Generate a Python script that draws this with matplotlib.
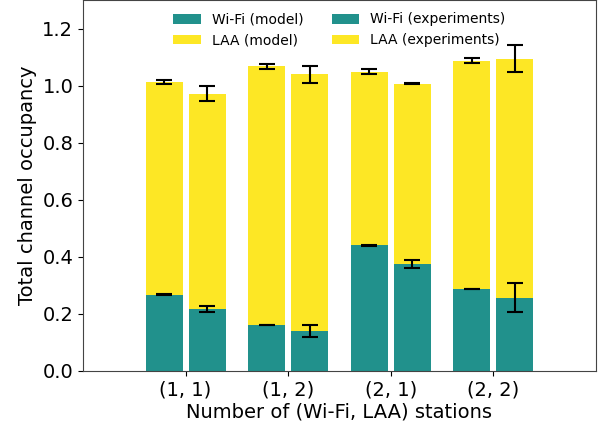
import matplotlib
matplotlib.use("Agg")
import matplotlib.pyplot as plt
import numpy as np

categories = ["(1, 1)", "(1, 2)", "(2, 1)", "(2, 2)"]
wifi_model = [0.267, 0.161, 0.440, 0.288]
wifi_model_err = [0.002, 0.001, 0.001, 0.001]
total_model = [1.014, 1.067, 1.049, 1.088]
total_model_err = [0.007, 0.009, 0.008, 0.009]
wifi_exp = [0.218, 0.140, 0.375, 0.256]
wifi_exp_err = [0.010, 0.021, 0.015, 0.051]
total_exp = [0.972, 1.039, 1.007, 1.095]
total_exp_err = [0.027, 0.030, 0.002, 0.048]

laa_model = [t - w for t, w in zip(total_model, wifi_model)]
laa_exp = [t - w for t, w in zip(total_exp, wifi_exp)]

teal = "#21918c"
yellow = "#fde725"

fig = plt.figure(figsize=(6.03, 4.32), dpi=100)
ax = fig.add_axes([83/603, 1 - 371/432, 513/603, 371/432])

x = np.arange(len(categories))
w = 0.36
off = 0.21
ek = dict(ecolor="black", capsize=6, elinewidth=1.5, capthick=1.5)

ax.bar(x - off, wifi_model, w, color=teal, label="Wi-Fi (model)")
ax.bar(x - off, laa_model, w, bottom=wifi_model, color=yellow, label="LAA (model)")
ax.bar(x + off, wifi_exp, w, color=teal, label="Wi-Fi (experiments)")
ax.bar(x + off, laa_exp, w, bottom=wifi_exp, color=yellow, label="LAA (experiments)")

ax.errorbar(x - off, wifi_model, yerr=wifi_model_err, fmt="none", **ek)
ax.errorbar(x - off, total_model, yerr=total_model_err, fmt="none", **ek)
ax.errorbar(x + off, wifi_exp, yerr=wifi_exp_err, fmt="none", **ek)
ax.errorbar(x + off, total_exp, yerr=total_exp_err, fmt="none", **ek)

ax.set_xlim(-1, 4)
ax.set_ylim(0, 1.30)
ax.set_xticks(x)
ax.set_xticklabels(categories, fontsize=14)
ax.set_yticks([0.0, 0.2, 0.4, 0.6, 0.8, 1.0, 1.2])
ax.tick_params(axis="y", labelsize=14)
ax.set_xlabel("Number of (Wi-Fi, LAA) stations", fontsize=14, labelpad=2)
ax.set_ylabel("Total channel occupancy", fontsize=14)
for s in ax.spines.values():
    s.set_color("#444444")

h, l = ax.get_legend_handles_labels()
ax.legend(h, l, ncol=2, loc="upper center",
          frameon=False, fontsize=10, bbox_to_anchor=(0.5, 1.0), columnspacing=2.0)

fig.savefig("out.png", dpi=100)
